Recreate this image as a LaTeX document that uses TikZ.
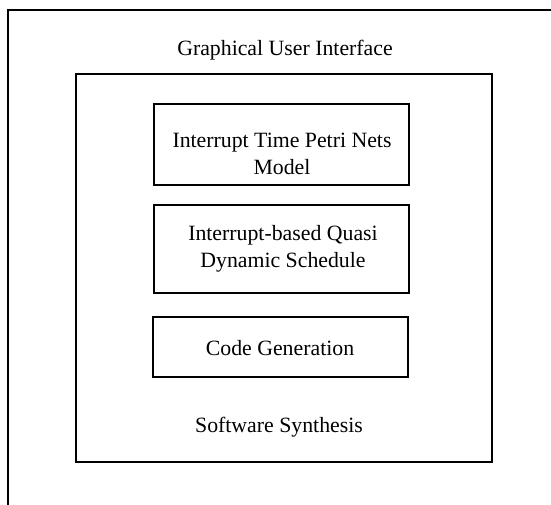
\documentclass[tikz,border=0pt]{standalone}
\usepackage{fontspec}
\setmainfont{Liberation Serif}
\begin{document}
\begin{tikzpicture}[x=1pt,y=-1pt,
  frame/.style={draw=black,line width=1.3pt},
  boxline/.style={draw=black,line width=1.3pt,rectangle,inner sep=0pt},
  lbl/.style={font=\fontsize{21.8}{27.5}\selectfont,anchor=base,inner sep=0pt,align=center}]
\useasboundingbox (0,0) rectangle (551,505);
\coordinate (ob) at (8,505);
\coordinate (otl) at (8,10);
\coordinate (otr) at (551,10);
\draw[frame] (ob) -- (otl) -- (otr);
\node[lbl] (gui) at (285,56) {Graphical User Interface};
\node[boxline,minimum width=416pt,minimum height=388pt] (ss) at (284,268) {};
\node[lbl] (sst) at (279,432) {Software Synthesis};
\node[boxline,minimum width=255pt,minimum height=81pt] (b1) at (281.5,144.5) {};
\node[lbl] (t1) at (282,175) {Interrupt Time Petri Nets\\Model};
\node[boxline,minimum width=255pt,minimum height=88pt] (b2) at (281.5,249) {};
\node[lbl] (t2) at (283,267.5) {Interrupt-based Quasi\\Dynamic Schedule};
\node[boxline,minimum width=255pt,minimum height=60pt] (b3) at (280.5,347) {};
\node[lbl] (t3) at (280,355.5) {Code Generation};
\end{tikzpicture}
\end{document}
